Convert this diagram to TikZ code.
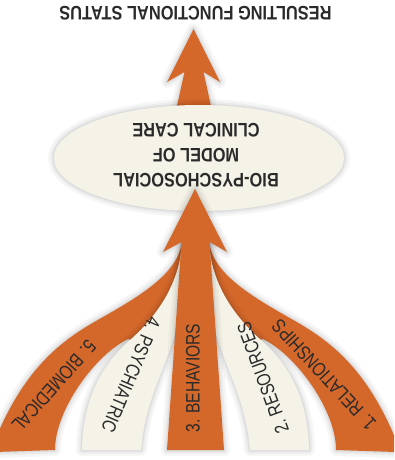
\documentclass[tikz,border=0pt]{standalone}
\usepackage{fontspec}
\setmainfont{Liberation Sans}
\newfontfamily\boldcond[FakeStretch=0.84]{Liberation Sans}
\newfontfamily\labcond[FakeStretch=0.8]{Liberation Sans}
\usetikzlibrary{shapes.geometric}
\definecolor{arrorange}{HTML}{D4672A}
\definecolor{cream}{HTML}{F5F3E8}
\definecolor{ink}{HTML}{2A2A2A}
\begin{document}
\begin{tikzpicture}[x=1pt,y=-1pt,
  halo/.style={
    preaction={draw=black,draw opacity=0.035,line width=12pt,line join=round},
    preaction={draw=black,draw opacity=0.045,line width=7pt,line join=round},
    preaction={draw=black,draw opacity=0.06,line width=3pt,line join=round}},
  orangeband/.style={fill=arrorange,halo},
  creamband/.style={fill=cream,halo},
  lab/.style={font=\labcond\fontsize{19.5}{19.5}\selectfont,text=ink,inner sep=0pt},
  heavy/.style={font=\boldcond\bfseries\fontsize{19.5}{25}\selectfont,text=ink,align=center,inner sep=0pt},
]
\path[use as bounding box,clip] (0,0) rectangle (394,460);

% top arrow
\fill[orangeband] (193.5,29) -- (220,82) -- (203.5,72) -- (213,115) -- (175,115) -- (184.5,72) -- (167,82) -- cycle;

% ellipse
\node[ellipse,minimum width=290pt,minimum height=106pt,inner sep=0pt,fill=cream,halo] (ell) at (199,158) {};
\node[heavy,rotate=180] (elltext) at (196,155) {BIO-PYSCHOSOCIAL\\MODEL OF\\CLINICAL CARE};

% title
\node[heavy,rotate=180] (title) at (195.5,13) {RESULTING FUNCTIONAL STATUS};

% outer orange bands (left, and mirrored right)
\foreach \s/\sh in {1/0,-1/391} {
\begin{scope}[xshift=\sh pt,xscale=\s]
\fill[orangeband] (55,450) .. controls (55,410) and (95,355) .. (128,339) -- (150,345) -- (188,330) -- (188,250) -- (182,242)
  .. controls (178,270) and (150,290) .. (110,313)
  .. controls (75,333) and (30,355) .. (-5,440) -- (-5,452) -- cycle;
\end{scope}
}
% cream bands
\foreach \s/\sh in {1/0,-1/391} {
\begin{scope}[xshift=\sh pt,xscale=\s]
\fill[creamband] (82,450) .. controls (83,395) and (105,362) .. (130,340)
  .. controls (155,318) and (180,285) .. (182,242) -- (190,246) -- (190,320) -- (180,320)
  .. controls (165,370) and (145,400) .. (141,450) -- cycle;
\end{scope}
}

% central arrow
\fill[orangeband] (195,189) -- (227,252) -- (209.5,242) -- (224,450) -- (167,450) -- (181.5,242) -- (163,252) -- cycle;

% labels
\node[lab,rotate=90] (l3) at (193,378) {3. BEHAVIORS};
\node[lab,rotate=110] (l2) at (263,378) {2. RESOURCES};
\node[lab,rotate=133] (l1) at (324,375) {1. RELATIONSHIPS};
\node[lab,rotate=247] (l4) at (131,375) {4. PSYCHIATRIC};
\node[lab,rotate=228] (l5) at (54,386) {5. BIOMEDICAL};
\end{tikzpicture}
\end{document}
